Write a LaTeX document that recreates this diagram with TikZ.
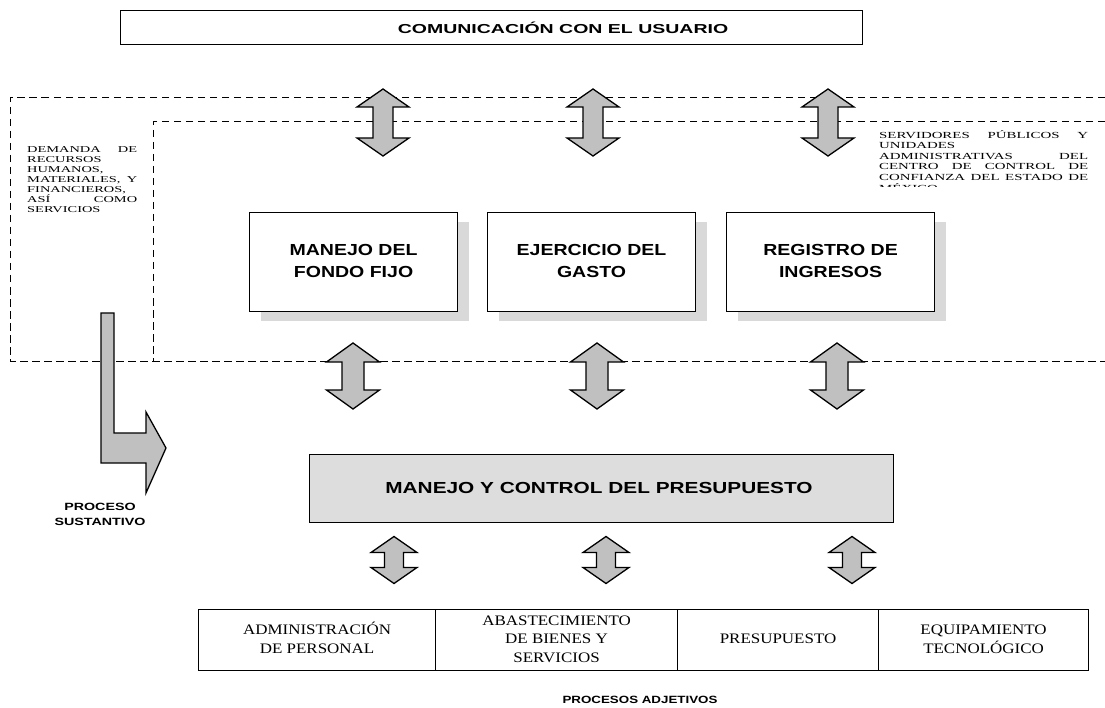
\documentclass[tikz,border=0pt]{standalone}
\usepackage{fontspec}
\setmainfont{Liberation Serif}
\setsansfont{Liberation Sans}
\definecolor{arrgray}{HTML}{C0C0C0}
\definecolor{shadowgray}{HTML}{D9D9D9}
\definecolor{boxgray}{HTML}{DDDDDD}
\tikzset{
  dsh/.style={draw, line width=1pt, dash pattern=on 7.5pt off 4.5pt},
  arr/.style={draw, fill=arrgray, line width=1.3pt, line join=miter},
  box/.style={draw, line width=1.1pt, fill=white, inner sep=0pt},
  bigsans/.style={font=\sffamily\bfseries\fontsize{16}{22}\selectfont, inner sep=0pt},
  smallsans/.style={font=\sffamily\bfseries\fontsize{10.5}{15}\selectfont, inner sep=0pt},
  serifcell/.style={font=\rmfamily\fontsize{14.5}{18.5}\selectfont, inner sep=0pt},
}
\newcommand{\vdarrow}[6]{%
  \draw[arr] (#1,#2-#3) -- (#1+#5,#2-#3+#4) -- (#1+#6,#2-#3+#4) -- (#1+#6,#2+#3-#4)
    -- (#1+#5,#2+#3-#4) -- (#1,#2+#3) -- (#1-#5,#2+#3-#4) -- (#1-#6,#2+#3-#4)
    -- (#1-#6,#2-#3+#4) -- (#1-#5,#2-#3+#4) -- cycle;}
\newcommand{\stretchtxt}[2]{\scalebox{#1}[1]{\begin{tabular}{@{}c@{}}#2\end{tabular}}}
\begin{document}
\begin{tikzpicture}[x=1pt,y=-1pt]
\useasboundingbox (0,0) rectangle (1105,708);

% top box
\node[box, minimum width=742pt, minimum height=34pt, anchor=north west] (topbox) at (120,10) {};
\node[font=\sffamily\bfseries\fontsize{13}{15}\selectfont, inner sep=0pt] (toptext) at (563,28)
  {\scalebox{1.5}[1]{COMUNICACIÓN CON EL USUARIO}};

% dashed frames
\draw[dsh] (1105,98) -- (10,98) -- (10,361) -- (1105,361);
\draw[dsh] (1105,122) -- (153,122) -- (153,361);

% left text
\node[anchor=north west, inner sep=0pt] (lefttext) at (27,146)
  {\scalebox{1.6}[1]{\parbox[t]{68.75pt}{\fontsize{9}{10}\selectfont
  DEMANDA\hfill DE\\RECURSOS\\HUMANOS,\\MATERIALES,\hfill Y\\FINANCIEROS,\\ASÍ\hfill COMO\\SERVICIOS}}};

% right text (clipped)
\begin{scope}
\clip (870,110) rectangle (1105,187);
\node[anchor=north west, inner sep=0pt] (righttext) at (879,130)
  {\scalebox{1.6}[1]{\parbox[t]{130.6pt}{\fontsize{9.3}{10.6}\selectfont
  SERVIDORES\hfill PÚBLICOS\hfill Y\\UNIDADES\\ADMINISTRATIVAS\hfill DEL\\CENTRO\hfill DE\hfill CONTROL\hfill DE\\CONFIANZA\hfill DEL\hfill ESTADO\hfill DE\\MÉXICO}}};
\end{scope}

% three middle boxes with shadows
\fill[shadowgray] (261,222) rectangle (469,321);
\fill[shadowgray] (499,222) rectangle (707,321);
\fill[shadowgray] (738,222) rectangle (946,321);
\node[box, minimum width=208pt, minimum height=99pt, anchor=north west] (fondo) at (249,212) {};
\node[box, minimum width=208pt, minimum height=99pt, anchor=north west] (gasto) at (487,212) {};
\node[box, minimum width=208pt, minimum height=99pt, anchor=north west] (ingresos) at (726,212) {};
\node[bigsans] (fondot) at (fondo.center) {\stretchtxt{1.22}{MANEJO DEL\\FONDO FIJO}};
\node[bigsans] (gastot) at (gasto.center) {\stretchtxt{1.22}{EJERCICIO DEL\\GASTO}};
\node[bigsans] (ingresost) at (ingresos.center) {\stretchtxt{1.22}{REGISTRO DE\\INGRESOS}};

% presupuesto box
\node[box, fill=boxgray, minimum width=584pt, minimum height=68pt, anchor=north west] (presu) at (309,454) {};
\node[bigsans] (presut) at (599,488) {\scalebox{1.3}[1]{MANEJO Y CONTROL DEL PRESUPUESTO}};

% double arrows, top row
\vdarrow{383}{122.5}{33.5}{18}{26}{10}
\vdarrow{593}{122.5}{33.5}{18}{26}{10}
\vdarrow{828}{122.5}{33.5}{18}{26}{10}
% middle row
\vdarrow{353}{376}{33}{19}{26.5}{11}
\vdarrow{597}{376}{33}{19}{26.5}{11}
\vdarrow{837}{376}{33}{19}{26.5}{11}
% bottom row
\vdarrow{394}{560}{23.5}{16}{23}{9.5}
\vdarrow{606}{560}{23.5}{16}{23}{9.5}
\vdarrow{852}{560}{23.5}{16}{23}{9.5}

% bent arrow
\draw[arr] (101,313) -- (114,313) -- (114,433) -- (146,433) -- (146,412) -- (166,448)
  -- (146,493) -- (146,463) -- (101,463) -- cycle;

\node[smallsans] (sust) at (100,515) {\stretchtxt{1.36}{PROCESO\\SUSTANTIVO}};

% bottom boxes
\node[box, minimum width=237pt, minimum height=61pt, anchor=north west] (admin) at (198,609) {};
\node[box, minimum width=242pt, minimum height=61pt, anchor=north west] (abast) at (435,609) {};
\node[box, minimum width=201pt, minimum height=61pt, anchor=north west] (presup) at (677,609) {};
\node[box, minimum width=210pt, minimum height=61pt, anchor=north west] (equip) at (878,609) {};
\node[serifcell] (admint) at (admin.center) {\stretchtxt{1.17}{ADMINISTRACIÓN\\DE PERSONAL}};
\node[serifcell] (abastt) at (abast.center) {\stretchtxt{1.17}{ABASTECIMIENTO\\DE BIENES Y\\SERVICIOS}};
\node[serifcell] (presupt) at (presup.center) {\stretchtxt{1.17}{PRESUPUESTO}};
\node[serifcell] (equipt) at (equip.center) {\stretchtxt{1.17}{EQUIPAMIENTO\\TECNOLÓGICO}};

\node[smallsans] (adj) at (640,700) {\scalebox{1.27}[1]{PROCESOS ADJETIVOS}};
\end{tikzpicture}
\end{document}
